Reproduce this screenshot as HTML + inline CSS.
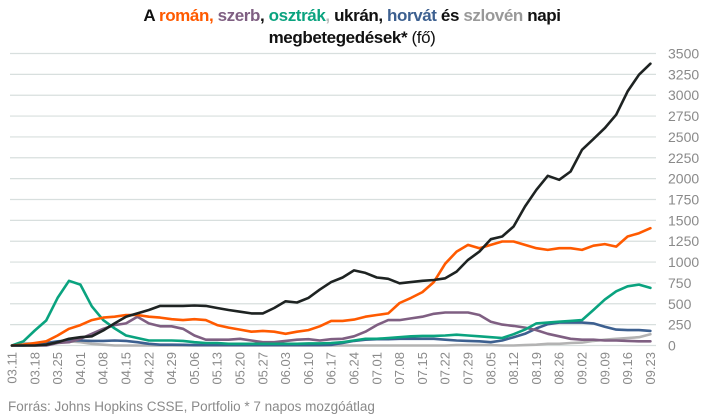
<!DOCTYPE html>
<html><head><meta charset="utf-8">
<style>
html,body{margin:0;padding:0;background:#fff;}
body{width:706px;height:417px;overflow:hidden;font-family:"Liberation Sans",sans-serif;}
#chart{position:absolute;left:0;top:0;}
</style></head>
<body>
<svg id="chart" width="706" height="417" viewBox="0 0 706 417" xmlns="http://www.w3.org/2000/svg">
  <g font-family="Liberation Sans, sans-serif" font-weight="bold" font-size="17" text-anchor="middle" letter-spacing="-0.4">
    <text x="352" y="21"><tspan fill="#111">A </tspan><tspan fill="#ff5a00">román, </tspan><tspan fill="#7f5f82">szerb</tspan><tspan fill="#111">, </tspan><tspan fill="#0aa37f">osztrák</tspan><tspan fill="#bbb">, </tspan><tspan fill="#111">ukrán, </tspan><tspan fill="#3d6090">horvát</tspan><tspan fill="#111"> és </tspan><tspan fill="#999">szlovén</tspan><tspan fill="#111"> napi</tspan></text>
    <text x="352" y="43"><tspan fill="#111">megbetegedések*</tspan><tspan fill="#111" font-weight="normal"> (fő)</tspan></text>
  </g>
  <g id="grid"></g>
  <g id="yticks"></g>
  <g id="xticks"></g>
  <g id="series"></g>
  <text x="8" y="411" font-size="13.5" fill="#8a8a8a">Forrás: Johns Hopkins CSSE, Portfolio   * 7 napos mozgóátlag</text>
</svg>
<script>
// sample every 3.5 days starting 03.11
const yTicks = [0,250,500,750,1000,1250,1500,1750,2000,2250,2500,2750,3000,3250,3500];
const xLabels = ["03.11","03.18","03.25","04.01","04.08","04.15","04.22","04.29","05.06","05.13","05.20","05.27","06.03","06.10","06.17","06.24","07.01","07.08","07.15","07.22","07.29","08.05","08.12","08.19","08.26","09.02","09.09","09.16","09.23"];
const romania = [0,10,30,50,120,200,245,305,335,345,365,365,345,335,315, 305,315,305,245,215,190,165,175,165,140,165,185,230,295, 295,310,345,365,385,510,570,640,760,980, 1126,1206,1166,1206,1246,1246,1206,1166,1146,1166,1166,1146,1196,1216,1186,1306,1346,1406];
const serbia = [0,0,0,0,30,40,80,140,200,245,265,345,265,230,230, 200,120,70,70,70,80,60,40,40,55,70,75,60,75, 80,110,165,245,305,305,325,345,380,395,395,395,365,285, 250,235,215,185,140,110,80,70,70,60,60,55,50,50];
const austria = [0,50,180,300,570,775,730,470,305,205,120,90,60,60,60, 55,40,30,30,20,20,20,20,20,20,20,25,25,30, 40,60,80,80,90,100,110,115,115,120,130,120,110,100, 90,135,190,265,275,285,295,305,425,550,650,710,730,690];
const ukraine = [0,0,0,10,40,80,100,110,180,265,345,385,425,475,475, 475,480,475,450,425,405,385,385,450,530,515,570,670,760, 815,900,870,815,800,745,760,775,785, 806,886,1026,1126,1274,1306,1426,1666,1866,2034,1986,2086,2346,2474,2606,2766,3046,3246,3378];
const croatia = [0,0,10,30,50,60,60,55,55,60,55,40,20,10,10, 8,5,5,5,5,5,5,5,5,5,5,5,5,8, 30,55,70,75,75,80,80,80,80,70,60,55,50,40, 60,100,140,205,255,275,275,275,265,225,190,185,185,175];
const slovenia = [0,30,20,30,40,50,40,20,10,0,0,0,0,0,0, 0,0,0,0,0,0,0,0,0,0,0,0,0,0, 0,0,0,0,0,0,0,0,0,0,5,5,5,5, 0,0,5,10,20,20,30,35,55,70,80,90,100,135];

const NS = "http://www.w3.org/2000/svg";
const x0 = 12, pxPerDay = 3.257, y0 = 345.5, yTop = 53.5, vMax = 3500;
const dayStep = 3.5;
function xScale(day){ return x0 + day*pxPerDay; }
function yScale(v){ return y0 - v*(y0-yTop)/vMax; }
function mk(tag, attrs){ const e=document.createElementNS(NS,tag); for(const k in attrs) e.setAttribute(k,attrs[k]); return e; }

const grid=document.getElementById('grid'), yt=document.getElementById('yticks'), xt=document.getElementById('xticks'), ser=document.getElementById('series');
yTicks.forEach(v=>{
  const l=mk('line',{x1:10,x2:656,y1:yScale(v),y2:yScale(v),stroke:'#d8dfde','stroke-width':1.2});
  
  
  grid.appendChild(l);
  const t=mk('text',{x:668,y:yScale(v)+5,'font-size':14,fill:'#8a8a8a'});
  
  
  t.textContent=v; yt.appendChild(t);
});
xLabels.forEach((lab,i)=>{
  const x=xScale(i*7);
  const t=mk('text',{x:0,y:0,'font-size':13,fill:'#8a8a8a','text-anchor':'end',transform:`translate(${x+4.5},352) rotate(-90)`});
  
  
  t.textContent=lab; xt.appendChild(t);
});
const seriesList=[
  ['slovenia-line',slovenia,'#b3b3b3'],
  ['croatia-line',croatia,'#3d6090'],
  ['serbia-line',serbia,'#7f5f82'],
  ['austria-line',austria,'#0aa37f'],
  ['romania-line',romania,'#ff5a00'],
  ['ukraine-line',ukraine,'#1e2322']
];
seriesList.forEach(([name,vals,col])=>{
  const d=vals.map((v,i)=>(i?'L':'M')+xScale(i*dayStep).toFixed(1)+','+yScale(v).toFixed(1)).join(' ');
  const p=mk('path',{d:d,fill:'none',stroke:col,'stroke-width':2.6,'stroke-linejoin':'round','stroke-linecap':'round'});
  
  
  ser.appendChild(p);
});
</script>
</body></html>
